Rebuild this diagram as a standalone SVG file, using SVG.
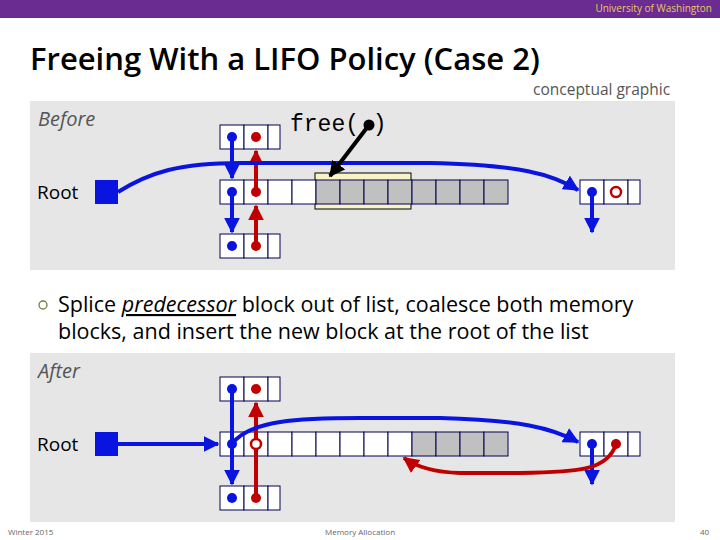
<svg xmlns="http://www.w3.org/2000/svg" width="720" height="540" viewBox="0 0 720 540">
<defs>
<marker id="ab" viewBox="0 0 10 10" refX="9" refY="5" markerWidth="4" markerHeight="4" orient="auto"><path d="M0,0L10,5L0,10z" fill="#0a14e0"/></marker>
<marker id="ar" viewBox="0 0 10 10" refX="9" refY="5" markerWidth="4" markerHeight="4" orient="auto"><path d="M0,0L10,5L0,10z" fill="#c00000"/></marker>
<marker id="ak" viewBox="0 0 10 10" refX="9" refY="5" markerWidth="4" markerHeight="4" orient="auto"><path d="M0,0L10,5L0,10z" fill="#000"/></marker>
</defs>
<style>
.c{fill:#fff;stroke:#000050;stroke-width:1}
.g{fill:#c0c0c0;stroke:#000050;stroke-width:1}
.b{stroke:#0a14e0;stroke-width:4;fill:none}
.r{stroke:#c00000;stroke-width:4;fill:none}
.t{font-family:"Open Sans","Liberation Sans",sans-serif}
</style>
<rect width="720" height="540" fill="#fff"/>
<rect width="720" height="18" fill="#6a2c91"/>
<text x="712" y="12" text-anchor="end" class="t" font-size="10" fill="#e8c860">University of Washington</text>
<text x="30" y="70" class="t" font-size="31" font-weight="600" fill="#000">Freeing With a LIFO Policy (Case 2)</text>
<text x="533" y="95" class="t" font-size="15.5" fill="#555">conceptual graphic</text>
<rect x="30" y="101" width="645" height="169" fill="#e6e6e6"/>
<rect x="30" y="353" width="645" height="169" fill="#e6e6e6"/>
<text x="38" y="126" class="t" font-size="20" font-style="italic" fill="#555">Before</text>
<text x="37" y="199" class="t" font-size="19" fill="#000">Root</text>
<text x="38" y="378" class="t" font-size="20" font-style="italic" fill="#555">After</text>
<text x="37" y="451" class="t" font-size="19" fill="#000">Root</text>
<circle cx="43" cy="305" r="4" fill="none" stroke="#7a7a40" stroke-width="1.3"/>
<text x="58" y="312" class="t" font-size="21.5" fill="#000">Splice <tspan font-style="italic" text-decoration="underline">predecessor</tspan> block out of list, coalesce both memory</text>
<text x="58" y="339" class="t" font-size="21.5" fill="#000">blocks, and insert the new block at the root of the list</text>
<text x="8" y="535" class="t" font-size="8" fill="#666">Winter 2015</text>
<text x="325" y="535" class="t" font-size="8" fill="#666">Memory Allocation</text>
<text x="700" y="535" class="t" font-size="8" fill="#666">40</text>

<g id="before-top"><rect class="c" x="220" y="125" width="24" height="24"/><rect class="c" x="244" y="125" width="24" height="24"/><rect class="c" x="268" y="125" width="12" height="24"/><circle cx="232" cy="137" r="5" fill="#0a14e0"/><circle cx="256" cy="137" r="5" fill="#c00000"/></g>
<g id="before-bottom"><rect class="c" x="220" y="234" width="24" height="24"/><rect class="c" x="244" y="234" width="24" height="24"/><rect class="c" x="268" y="234" width="12" height="24"/><circle cx="232" cy="246" r="5" fill="#0a14e0"/><circle cx="256" cy="246" r="5" fill="#c00000"/></g>
<g id="before-mid">
<rect x="315" y="173" width="96" height="36" fill="#f8f4c8" stroke="#000" stroke-width="1"/>
<rect class="c" x="220" y="180" width="24" height="24"/><rect class="c" x="244" y="180" width="24" height="24"/><rect class="c" x="268" y="180" width="24" height="24"/><rect class="c" x="292" y="180" width="24" height="24"/>
<rect class="g" x="316" y="180" width="24" height="24"/><rect class="g" x="340" y="180" width="24" height="24"/><rect class="g" x="364" y="180" width="24" height="24"/><rect class="g" x="388" y="180" width="24" height="24"/><rect class="g" x="412" y="180" width="24" height="24"/><rect class="g" x="436" y="180" width="24" height="24"/><rect class="g" x="460" y="180" width="24" height="24"/><rect class="g" x="484" y="180" width="24" height="24"/>
<circle cx="232" cy="192" r="5" fill="#0a14e0"/><circle cx="256" cy="192" r="5" fill="#c00000"/></g>
<g id="before-right"><rect class="c" x="580" y="180" width="24" height="24"/><rect class="c" x="604" y="180" width="24" height="24"/><rect class="c" x="628" y="180" width="12" height="24"/><circle cx="592" cy="192" r="5" fill="#0a14e0"/><circle cx="616" cy="192" r="5" fill="none" stroke="#c00000" stroke-width="2.5"/></g>
<g id="before-root"><rect x="95" y="180" width="23" height="24" fill="#0a14e0"/></g>
<text x="290" y="131" font-family="Liberation Mono,monospace" font-size="23" fill="#000">free( )</text>

<g id="after-top"><rect class="c" x="220" y="377" width="24" height="24"/><rect class="c" x="244" y="377" width="24" height="24"/><rect class="c" x="268" y="377" width="12" height="24"/><circle cx="232" cy="389" r="5" fill="#0a14e0"/><circle cx="256" cy="389" r="5" fill="#c00000"/></g>
<g id="after-bottom"><rect class="c" x="220" y="486" width="24" height="24"/><rect class="c" x="244" y="486" width="24" height="24"/><rect class="c" x="268" y="486" width="12" height="24"/><circle cx="232" cy="498" r="5" fill="#0a14e0"/><circle cx="256" cy="498" r="5" fill="#c00000"/></g>
<g id="after-mid">
<rect class="c" x="220" y="432" width="24" height="24"/><rect class="c" x="244" y="432" width="24" height="24"/><rect class="c" x="268" y="432" width="24" height="24"/><rect class="c" x="292" y="432" width="24" height="24"/><rect class="c" x="316" y="432" width="24" height="24"/><rect class="c" x="340" y="432" width="24" height="24"/><rect class="c" x="364" y="432" width="24" height="24"/><rect class="c" x="388" y="432" width="24" height="24"/>
<rect class="g" x="412" y="432" width="24" height="24"/><rect class="g" x="436" y="432" width="24" height="24"/><rect class="g" x="460" y="432" width="24" height="24"/><rect class="g" x="484" y="432" width="24" height="24"/>
<circle cx="256" cy="444" r="5" fill="#fff" stroke="#c00000" stroke-width="2.5"/></g>
<g id="after-right"><rect class="c" x="580" y="432" width="24" height="24"/><rect class="c" x="604" y="432" width="24" height="24"/><rect class="c" x="628" y="432" width="12" height="24"/></g>
<g id="after-root"><rect x="95" y="432" width="23" height="24" fill="#0a14e0"/></g>

<g id="connectors">
<path class="b" d="M232,137V178" marker-end="url(#ab)"/>
<path class="r" d="M256,192V151" marker-end="url(#ar)"/>
<path class="b" d="M232,192V232" marker-end="url(#ab)"/>
<path class="r" d="M256,246V206" marker-end="url(#ar)"/>
<path class="b" d="M592,192V232" marker-end="url(#ab)"/>
<path class="b" d="M118,192C150,172 180,163 240,163L430,163C520,165 552,174 578,190" marker-end="url(#ab)"/>
<circle cx="369" cy="125" r="5.5" fill="#000"/>
<path d="M369,125L330,176" stroke="#000" stroke-width="4" fill="none" marker-end="url(#ak)"/>

<path class="b" d="M232,389V444"/>
<path class="b" d="M232,444V484" marker-end="url(#ab)"/>
<path class="r" d="M256,498V449"/>
<path class="r" d="M256,439V403" marker-end="url(#ar)"/>
<path class="b" d="M118,444H218" marker-end="url(#ab)"/>
<path class="b" d="M232,444C250,420 300,418 360,418L440,418C520,420 552,428 578,442" marker-end="url(#ab)"/>
<circle cx="232" cy="444" r="5" fill="#0a14e0"/>
<path class="b" d="M592,444V484" marker-end="url(#ab)"/>
<circle cx="592" cy="444" r="5" fill="#0a14e0"/>
<path class="r" d="M616,444C608,470 580,472 520,473L460,473C430,472 415,466 404,458" marker-end="url(#ar)"/>
<circle cx="616" cy="444" r="5" fill="#c00000"/>
</g>
</svg>
